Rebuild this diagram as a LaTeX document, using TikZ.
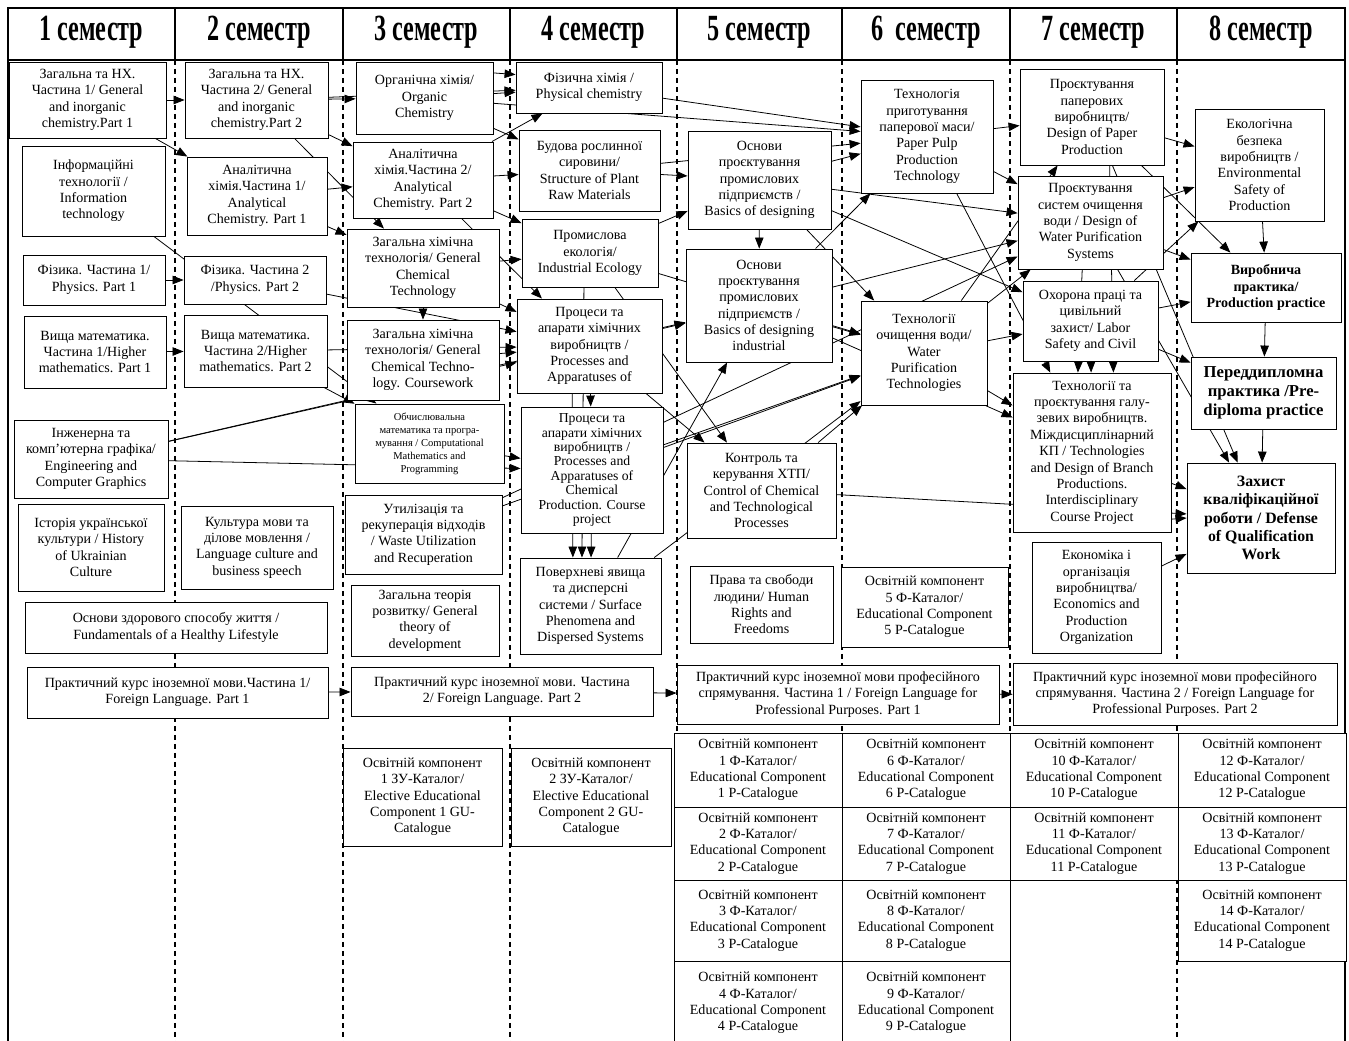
\documentclass[tikz,border=0pt]{standalone}
\usepackage{fontspec}
\setmainfont{Liberation Serif}
\usepackage{graphicx}
\usetikzlibrary{arrows.meta}
\pgfdeclarelayer{bg}
\pgfsetlayers{bg,main}
\newcommand{\cbox}[6][]{\node[box,#1,minimum width={(#4-#2)*0.02cm},minimum height={(#5-#3)*0.02cm}] (#6) at ({(#2+#4)/2},{(#3+#5)/2})}

\begin{document}
\begin{tikzpicture}[x=0.02cm, y=-0.02cm, >={Triangle[length=2.2mm,width=1.7mm]},
    box/.style={draw, fill=white, line width=0.5pt, align=center, inner sep=1pt, font=\fontsize{8}{9.3}\selectfont},
    head/.style={font=\fontsize{14.5}{17}\selectfont\bfseries},
    conn/.style={->, line width=0.45pt},
    semline/.style={line width=0.6pt, dash pattern=on 1mm off 0.8mm}]
    \useasboundingbox (0,0) rectangle (1349,1041);
    \draw[line width=0.8pt] (8,1041) -- (8,8) -- (1345,8) -- (1345,1041);
    \draw[line width=0.8pt] (8,60) -- (1345,60);
    \foreach \x in {175,343,510,677,842,1010,1177} \draw[line width=0.8pt] (\x,8) -- (\x,60);
    \foreach \n/\x in {1/91.5,2/259,3/426.5,4/593.5,5/759.5,7/1093.5,8/1261}
      \node[head] (s\n) at (\x,32) {\scalebox{0.95}[1.45]{\n\ семестр}};
    \node[head] (s6) at (926,32) {\scalebox{0.95}[1.45]{6\ \ семестр}};

    \cbox{9}{62}{166}{138}{gch1} {Загальна та НХ.\\ Частина 1/ General\\ and inorganic\\ chemistry.Part 1};
    \cbox{22}{146}{165}{236}{it} {Інформаційні\\ технології /\\ Information\\ technology};
    \cbox{23}{255}{165}{305}{ph1} {Фізика. Частина 1/\\ Physics. Part 1};
    \cbox{24}{316}{166}{388}{hm1} {Вища математика.\\ Частина 1/Higher\\ mathematics. Part 1};
    \cbox{14}{420}{168}{498}{egr} {Інженерна та\\ комп’ютерна графіка/\\ Engineering and\\ Computer Graphics};
    \cbox{18}{504}{164}{591}{hist} {Історія української\\ культури / History\\ of Ukrainian\\ Culture};
    \cbox{25}{602}{327}{653}{hls} {Основи здорового способу життя /\\ Fundamentals of a Healthy Lifestyle};
    \cbox{27}{667}{328}{718}{fl1} {Практичний курс іноземної мови.Частина 1/\\ Foreign Language. Part 1};

    \cbox{185}{62}{328}{138}{gch2} {Загальна та НХ.\\ Частина 2/ General\\ and inorganic\\ chemistry.Part 2};
    \cbox{187}{157}{327}{235}{an1} {Аналітична\\ хімія.Частина 1/\\ Analytical\\ Chemistry. Part 1};
    \cbox{184}{256}{326}{304}{ph2} {Фізика. Частина 2\\ /Physics. Part 2};
    \cbox{184}{315}{327}{387}{hm2} {Вища математика.\\ Частина 2/Higher\\ mathematics. Part 2};
    \cbox{181}{506}{333}{589}{cul} {Культура мови та\\ ділове мовлення /\\ Language culture and\\ business speech};

    \cbox{356}{62}{493}{134}{org} {Органічна хімія/\\ Organic\\ Chemistry};
    \cbox{353}{142}{493}{218}{an2} {Аналітична\\ хімія.Частина 2/\\ Analytical\\ Chemistry. Part 2};
    \cbox{347}{229}{499}{307}{gct} {Загальна хімічна\\ технологія/ General\\ Chemical\\ Technology};
    \cbox{347}{320}{499}{400}{gctc} {Загальна хімічна\\ технологія/ General\\ Chemical Techno-\\ logy. Coursework};
    \cbox[font=\fontsize{6}{7.4}\selectfont]{355}{404}{504}{483}{cmp} {Обчислювальна\\ математика та програ-\\ мування / Computational\\ Mathematics and\\ Programming};
    \cbox{345}{495}{502}{574}{util} {Утилізація та\\ рекуперація відходів\\ / Waste Utilization\\ and Recuperation};
    \cbox{351}{585}{499}{656}{gtd} {Загальна теорія\\ розвитку/ General\\ theory of\\ development};
    \cbox{351}{667}{653}{716}{fl2} {Практичний курс іноземної мови. Частина\\ 2/ Foreign Language. Part 2};
    \cbox{343}{748}{502}{846}{el1} {Освітній компонент\\ 1 ЗУ-Каталог/\\ Elective Educational\\ Component 1 GU-\\ Catalogue};

    \cbox{516}{62}{662}{113}{phc} {Фізична хімія /\\ Physical chemistry};
    \cbox{519}{130}{660}{211}{spr} {Будова рослинної\\ сировини/\\ Structure of Plant\\ Raw Materials};
    \cbox{522}{219}{658}{287}{eco} {Промислова\\ екологія/\\ Industrial Ecology};
    \cbox{517}{299}{662}{393}{pac1} {Процеси та\\ апарати хімічних\\ виробництв /\\ Processes and\\ Apparatuses of};
    \cbox[font=\fontsize{7.8}{8.2}\selectfont]{521}{407}{663}{533}{pacp} {Процеси та\\ апарати хімічних\\ виробництв /\\ Processes and\\ Apparatuses of\\ Chemical\\ Production. Course\\ project};
    \cbox{520}{558}{661}{654}{sur} {Поверхневі явища\\ та дисперсні\\ системи / Surface\\ Phenomena and\\ Dispersed Systems};
    \cbox{511}{748}{671}{846}{el2} {Освітній компонент\\ 2 ЗУ-Каталог/\\ Elective Educational\\ Component 2 GU-\\ Catalogue};

    \cbox{688}{131}{831}{229}{bd1} {Основи\\ проєктування\\ промислових\\ підприємств /\\ Basics of designing};
    \cbox{686}{249}{832}{362}{bdi} {Основи\\ проєктування\\ промислових\\ підприємств /\\ Basics of designing\\ industrial};
    \cbox{687}{443}{836}{538}{ctl} {Контроль та\\ керування ХТП/\\ Control of Chemical\\ and Technological\\ Processes};
    \cbox{690}{566}{833}{643}{hr} {Права та свободи\\ людини/ Human\\ Rights and\\ Freedoms};
    \cbox{677}{665}{999}{724}{flp1} {Практичний курс іноземної мови професійного\\ спрямування. Частина 1 / Foreign Language for\\ Professional Purposes. Part 1};

    \cbox{861}{80}{993}{193}{ppt} {Технологія\\ приготування\\ паперової маси/\\ Paper Pulp\\ Production\\ Technology};
    \cbox{861}{301}{987}{405}{wpt} {Технології\\ очищення води/\\ Water\\ Purification\\ Technologies};
    \cbox{841}{567}{1008}{647}{ec5} {Освітній компонент\\ 5 Ф-Каталог/\\ Educational Component\\ 5 P-Catalogue};

    \cbox{1020}{69}{1164}{165}{dpp} {Проєктування\\ паперових\\ виробництв/\\ Design of Paper\\ Production};
    \cbox{1018}{176}{1163}{269}{dwp} {Проєктування\\ систем очищення\\ води / Design of\\ Water Purification\\ Systems};
    \cbox{1023}{281}{1158}{361}{lsc} {Охорона праці та\\ цивільний\\ захист/ Labor\\ Safety and Civil};
    \cbox{1013}{373}{1171}{532}{tdb} {Технології та\\ проєктування галу-\\ зевих виробництв.\\ Міждисциплінарний\\ КП / Technologies\\ and Design of Branch\\ Productions.\\ Interdisciplinary\\ Course Project};
    \cbox{1032}{542}{1161}{653}{econ} {Економіка і\\ організація\\ виробництва/\\ Economics and\\ Production\\ Organization};
    \cbox{1013}{663}{1337}{725}{flp2} {Практичний курс іноземної мови професійного\\ спрямування. Частина 2 / Foreign Language for\\ Professional Purposes. Part 2};

    \cbox{1195}{109}{1324}{221}{esp} {Екологічна\\ безпека\\ виробництв /\\ Environmental\\ Safety of\\ Production};
    \cbox[font=\fontsize{8}{9.4}\selectfont\bfseries]{1191}{253}{1341}{322}{prp} {Виробнича\\ практика/\\ Production practice};
    \cbox[font=\fontsize{9.5}{10.8}\selectfont\bfseries]{1191}{357}{1336}{429}{pdp} {Переддипломна\\ практика /Pre-\\ diploma practice};
    \cbox[font=\fontsize{9}{10.4}\selectfont\bfseries]{1187}{463}{1335}{573}{dqw} {Захист\\ кваліфікаційної\\ роботи / Defense\\ of Qualification\\ Work};

    \foreach \n/\xa/\ya/\xb/\yb in {1/674/733/842/807, 2/674/807/842/880, 3/674/880/842/961, 4/674/961/842/1045,
        6/842/733/1010/807, 7/842/807/1010/880, 8/842/880/1010/961, 9/842/961/1010/1045,
        10/1010/733/1178/807, 11/1010/807/1178/880, 12/1178/733/1346/807, 13/1178/807/1346/880, 14/1178/880/1346/961}
      \cbox{\xa}{\ya}{\xb}{\yb}{ec\n} {Освітній компонент\\ \n\ Ф-Каталог/\\ Educational Component\\ \n\ P-Catalogue};

    \begin{pgfonlayer}{bg}
      \foreach \x in {175,343,510,677,842,1010,1177} \draw[semline] (\x,60) -- (\x,1041);
      \foreach \a/\b in {gch1/gch2, gch1/an1, ph1/ph2, hm1/hm2, fl1/fl2, it/cmp, egr/pac1, egr/pacp, egr/bdi,
          gch2/org, gch2/an2, gch2/gct, gch2/phc, an1/an2, an1/gct, ph2/pac1, hm2/pac1, hm2/cmp,
          org/phc, an2/phc, org/spr, an2/spr, an2/eco, gct/eco, gct/pac1, gctc/pac1, an2/pac1, cmp/pacp, org/ppt, gct/gctc,
          pac1/pacp, pacp/sur,
          spr/bd1, eco/bd1, phc/ppt, spr/ppt, eco/wpt, pac1/bdi, pac1/ctl, eco/ctl, util/wpt, util/dwp, sur/bdi, sur/wpt, pacp/wpt,
          bd1/bdi, bd1/ppt, bdi/ppt, bd1/wpt, bdi/wpt, ctl/wpt,
          bd1/lsc, bd1/dwp, bdi/dwp, bdi/tdb, ppt/dpp, wpt/dpp, ppt/dwp, wpt/dwp, wpt/lsc, wpt/tdb, ppt/tdb, ctl/dqw,
          lsc/tdb, dpp/esp, dwp/esp, lsc/esp, esp/prp, dpp/prp, dwp/prp, lsc/prp, prp/pdp, lsc/pdp,
          pdp/dqw, dpp/dqw, dwp/dqw, tdb/dqw, econ/dqw, fl2/flp1, flp1/flp2}
        \draw[conn] (\a) -- (\b);
      \draw[conn] (org.20) -- (phc.170);
      \draw[conn] (pac1.250) -- (sur.110); \draw[conn] (eco.260) -- (sur.100);
      \draw[conn] (dpp.290) -- (tdb.75); \draw[conn] (dwp.260) -- (tdb.100);
      \draw[conn] (tdb.-40) -- (dqw.west);
    \end{pgfonlayer}
\end{tikzpicture}
\end{document}
